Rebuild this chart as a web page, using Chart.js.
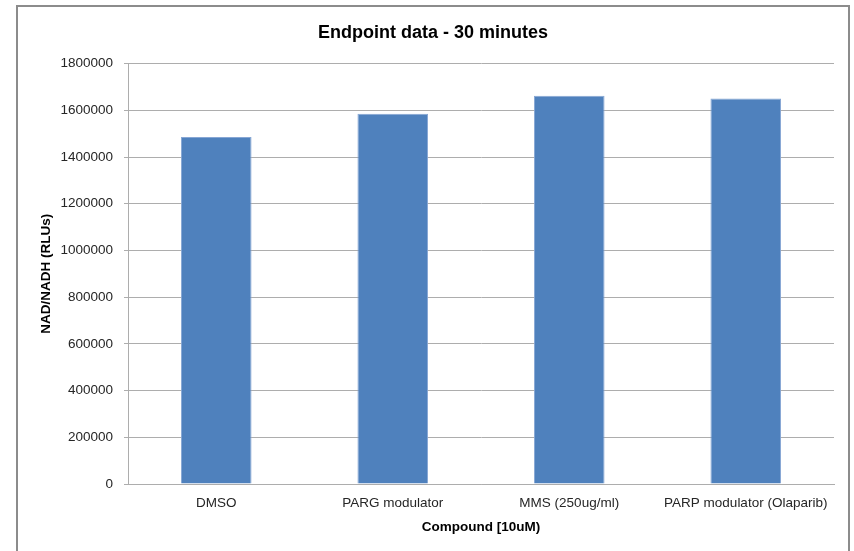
<!DOCTYPE html>
<html>
<head>
<meta charset="utf-8">
<title>Endpoint data - 30 minutes</title>
<script src="https://cdn.jsdelivr.net/npm/chart.js@4.4.1/dist/chart.umd.min.js"></script>
<style>
  html, body { margin: 0; padding: 0; background: #ffffff; }
  #wrap { position: relative; width: 854px; height: 551px; overflow: hidden; }
  #frame {
    position: absolute; left: 16px; top: 5px; width: 830px; height: 600px;
    border: 2px solid #8c8c8c; box-sizing: content-box;
  }
  #chart { position: absolute; left: 0; top: 0; }
</style>
</head>
<body>
<div id="wrap">
  <div id="frame"></div>
  <canvas id="chart" width="854" height="551"></canvas>
</div>
<script>
// Compounds tested at 10 uM and their NAD/NADH luminescence after 30 minutes
const categories = ['DMSO', 'PARG modulator', 'MMS (250ug/ml)', 'PARP modulator (Olaparib)'];
const nadNadhRlu = [1486000, 1585000, 1662000, 1651000];
const yTicks = [0, 200000, 400000, 600000, 800000, 1000000, 1200000, 1400000, 1600000, 1800000];

const FONT = 'Liberation Sans, Arial, sans-serif';
const TEXT = '#262626';
const GRID = '#adadad';

new Chart(document.getElementById('chart'), {
  type: 'bar',
  data: {
    labels: categories,
    datasets: [{
      label: 'NAD/NADH (RLUs)',
      data: nadNadhRlu,
      backgroundColor: '#4f81bd',
      borderColor: '#86a6d4',
      borderWidth: 1,
      barPercentage: 0.4,
      categoryPercentage: 1.0
    }]
  },
  options: {
    responsive: false,
    animation: false,
    devicePixelRatio: 1,
    layout: { padding: { left: 17, right: 5, top: 6, bottom: 0 } },
    plugins: {
      legend: { display: false },
      tooltip: { enabled: false },
      title: {
        display: true,
        text: 'Endpoint data - 30 minutes',
        color: '#000000',
        font: { family: FONT, size: 18, weight: 'bold' },
        padding: { top: 16, bottom: 20 }
      }
    },
    scales: {
      x: {
        grid: { display: false, drawTicks: false },
        border: { display: true, color: GRID, width: 1 },
        ticks: {
          color: TEXT,
          font: { family: FONT, size: 13.5 },
          padding: 11,
          maxRotation: 0,
          autoSkip: false
        },
        title: {
          display: true,
          text: 'Compound [10uM)',
          color: '#000000',
          font: { family: FONT, size: 13.5, weight: 'bold' },
          padding: { top: 0, bottom: 16 }
        },
        afterFit: s => { s.height = 67; }
      },
      y: {
        min: 0,
        max: 1800000,
        afterBuildTicks: s => { s.ticks = yTicks.map(v => ({ value: v })); },
        grid: { color: GRID, lineWidth: 1, drawTicks: true, tickLength: 4, tickColor: GRID },
        border: { display: true, color: GRID, width: 1 },
        ticks: {
          color: TEXT,
          font: { family: FONT, size: 13.5 },
          padding: 11,
          callback: v => String(v)
        },
        title: {
          display: true,
          text: 'NAD/NADH (RLUs)',
          color: '#000000',
          font: { family: FONT, size: 13.5, weight: 'bold' },
          padding: { top: 21, bottom: 0 }
        },
        afterFit: s => { s.width = 111; }
      },
      yRight: {
        position: 'right',
        display: true,
        grid: { display: false, drawTicks: false },
        border: { display: false },
        ticks: { display: false },
        afterFit: s => { s.width = 15; }
      }
    }
  }
});
</script>
</body>
</html>
